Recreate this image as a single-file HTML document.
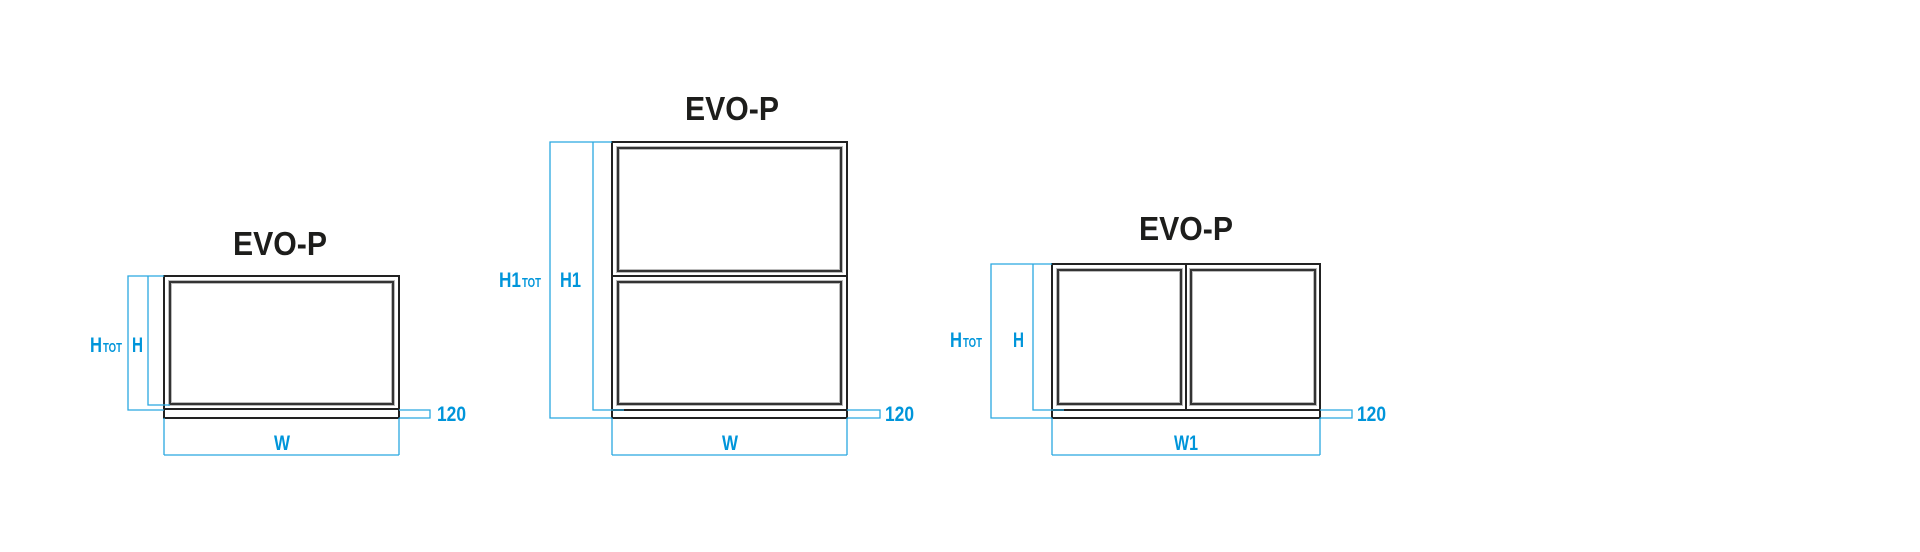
<!DOCTYPE html>
<html><head><meta charset="utf-8"><style>
html,body{margin:0;padding:0;background:#fff;}
svg{display:block;}
.t{font-family:"Liberation Sans",sans-serif;font-weight:bold;font-size:33px;fill:#1d1d1b;}
.b{font-family:"Liberation Sans Narrow","Liberation Sans",sans-serif;font-weight:bold;font-size:21px;fill:#0095da;}
.s{font-size:13px;}
.d{stroke:#29a8e0;stroke-width:1.3;fill:none;}
.o{stroke:#222;stroke-width:2;fill:none;}
.i{stroke:#333;stroke-width:2;fill:none;}
.h{stroke:#bbb;stroke-width:4;fill:none;}
</style></head><body>
<svg width="1920" height="552" viewBox="0 0 1920 552" xmlns="http://www.w3.org/2000/svg">
<!-- Diagram 1 -->
<text class="t" x="233" y="255" textLength="94" lengthAdjust="spacingAndGlyphs">EVO-P</text>
<rect class="h" x="170" y="282" width="223" height="122"/>
<rect class="i" x="170" y="282" width="223" height="122"/>
<rect class="o" x="164" y="276" width="235" height="142"/>
<line class="o" x1="164" y1="409" x2="399" y2="409"/>
<path class="d" d="M164 276H128V410H164M148 276V405H170M164 418V455M399 418V455M164 455H399M399 410H430V418H399"/>
<text class="b" x="90" y="352" textLength="12" lengthAdjust="spacingAndGlyphs">H</text>
<text class="b s" x="103" y="352" textLength="19" lengthAdjust="spacingAndGlyphs">TOT</text>
<text class="b" x="132" y="352" textLength="11" lengthAdjust="spacingAndGlyphs">H</text>
<text class="b" x="274" y="450" textLength="16" lengthAdjust="spacingAndGlyphs">W</text>
<text class="b" x="437" y="421" textLength="29" lengthAdjust="spacingAndGlyphs">120</text>

<!-- Diagram 2 -->
<text class="t" x="685" y="120" textLength="94" lengthAdjust="spacingAndGlyphs">EVO-P</text>
<rect class="h" x="618" y="148" width="223" height="123"/>
<rect class="i" x="618" y="148" width="223" height="123"/>
<rect class="h" x="618" y="282" width="223" height="122"/>
<rect class="i" x="618" y="282" width="223" height="122"/>
<rect class="o" x="612" y="142" width="235" height="276"/>
<line class="o" x1="612" y1="276" x2="847" y2="276"/>
<line class="o" x1="612" y1="410" x2="847" y2="410"/>
<path class="d" d="M612 142H550V418H612M593 142V410H624M612 418V455M847 418V455M612 455H847M847 410H880V418H847"/>
<text class="b" x="499" y="287" textLength="22" lengthAdjust="spacingAndGlyphs">H1</text>
<text class="b s" x="522" y="287" textLength="19" lengthAdjust="spacingAndGlyphs">TOT</text>
<text class="b" x="560" y="287" textLength="21" lengthAdjust="spacingAndGlyphs">H1</text>
<text class="b" x="722" y="450" textLength="16" lengthAdjust="spacingAndGlyphs">W</text>
<text class="b" x="885" y="421" textLength="29" lengthAdjust="spacingAndGlyphs">120</text>

<!-- Diagram 3 -->
<text class="t" x="1139" y="240" textLength="94" lengthAdjust="spacingAndGlyphs">EVO-P</text>
<rect class="h" x="1058" y="270" width="123" height="134"/>
<rect class="i" x="1058" y="270" width="123" height="134"/>
<rect class="h" x="1191" y="270" width="124" height="134"/>
<rect class="i" x="1191" y="270" width="124" height="134"/>
<rect class="o" x="1052" y="264" width="268" height="154"/>
<line class="o" x1="1186" y1="264" x2="1186" y2="410"/>
<line class="o" x1="1052" y1="410" x2="1320" y2="410"/>
<path class="d" d="M1052 264H991V418H1052M1033 264V410H1064M1052 418V455M1320 418V455M1052 455H1320M1320 410H1352V418H1320"/>
<text class="b" x="950" y="347" textLength="12" lengthAdjust="spacingAndGlyphs">H</text>
<text class="b s" x="963" y="347" textLength="19" lengthAdjust="spacingAndGlyphs">TOT</text>
<text class="b" x="1013" y="347" textLength="11" lengthAdjust="spacingAndGlyphs">H</text>
<text class="b" x="1174" y="450" textLength="24" lengthAdjust="spacingAndGlyphs">W1</text>
<text class="b" x="1357" y="421" textLength="29" lengthAdjust="spacingAndGlyphs">120</text>
</svg>
</body></html>
